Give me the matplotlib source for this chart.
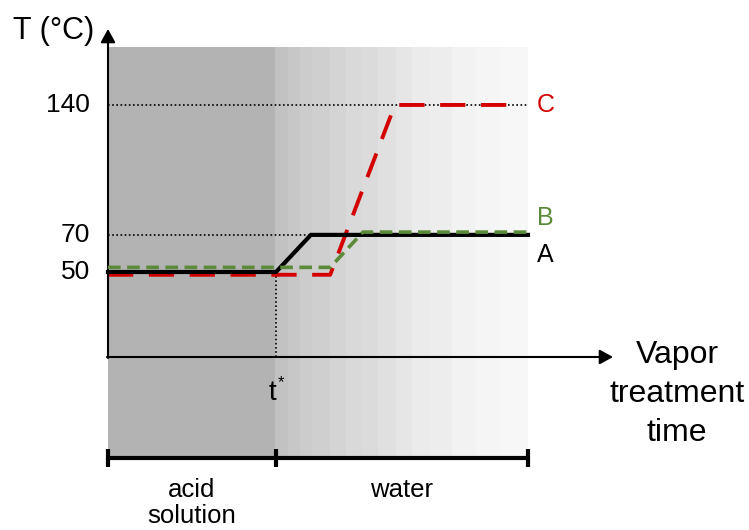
import numpy as np
import matplotlib
matplotlib.use("Agg")
import matplotlib.pyplot as plt
from matplotlib import transforms
from matplotlib.patches import Rectangle

plt.rcParams['font.family'] = ['Liberation Sans', 'DejaVu Sans']

# curves (time in arbitrary units, t* = 4)
t_a = [0, 4, 4.83, 10]
T_a = [50, 50, 70, 70]
t_b = [0, 5.29, 6.07, 10]
T_b = [52.5, 52.5, 71.5, 71.5]
t_c = [0, 5.29, 6.83, 9.7]
T_c = [48.5, 48.5, 140, 140]
t_star = 4
t_end = 10
yticks = [140, 70, 50]
ytick_labels = ['140', '70', '50']

# gray bands of the water part (pixel edges, gray level)
band_edges = [275, 288, 300, 312, 330, 346, 362, 378, 396, 412, 430, 452, 476, 500, 528]
band_gray = [0.76, 0.78, 0.80, 0.81, 0.83, 0.85, 0.86, 0.88, 0.90, 0.92, 0.93, 0.95, 0.96, 0.97]

W, H = 749, 530
fig = plt.figure(figsize=(W / 100, H / 100), dpi=100)
ax = fig.add_axes([0, 0, 1, 1])
# pixel mapping: x = 108 + 42 t ; y = 364.8 - 1.856 T
ax.set_xlim(-108 / 42, (W - 108) / 42)
ax.set_ylim((364.8 - H) / 1.856, 364.8 / 1.856)
ax.axis('off')

px = transforms.Affine2D().scale(1 / W, -1 / H).translate(0, 1) + fig.transFigure
xpx = transforms.blended_transform_factory(ax.transData, px)

# backgrounds
ax.add_patch(Rectangle((108, 47), 167, 411, transform=px, color='#b3b3b3', lw=0, zorder=0))
for i in range(len(band_gray)):
    g = band_gray[i]
    ax.add_patch(Rectangle((band_edges[i], 47), band_edges[i + 1] - band_edges[i], 411,
                           transform=px, color=(g, g, g), lw=0, zorder=0))

# guide lines
ax.plot([0, t_end], [140, 140], color='k', ls=(0, (1, 1.5)), lw=1.2, zorder=1)
ax.plot([0, t_a[2]], [70, 70], color='k', ls=(0, (1, 1.5)), lw=1.2, zorder=1)
ax.plot([t_star, t_star], [50, 4.2], color='k', ls=(0, (1, 1.5)), lw=1.2, zorder=1)

# curves
ax.plot(t_a, T_a, color='black', lw=3, zorder=3, solid_joinstyle='miter')
ax.plot(t_b, T_b, color='#5b8a38', lw=2.6, ls=(0, (3.5, 1.8)), zorder=4)
ax.plot(t_c, T_c, color='#d40000', lw=2.8, ls=(0, (6.5, 4)), zorder=2)

# axes with arrows
arr = dict(arrowstyle='-|>,head_length=0.4,head_width=0.22', color='black', lw=1.5,
           mutation_scale=20, shrinkA=0, shrinkB=0)
ax.annotate('', xy=(108, 29), xytext=(108, 358), xycoords=px, textcoords=px, arrowprops=arr)
ax.annotate('', xy=(613, 357), xytext=(107, 357), xycoords=px, textcoords=px, arrowprops=arr)

# y tick labels
for v, lab in zip(yticks, ytick_labels):
    ax.text(90, 364.8 - 1.856 * v, lab, transform=px, ha='right', va='center', fontsize=19)

ax.text(94, 31, 'T (°C)', transform=px, ha='right', va='center', fontsize=22)
ax.text(677, 394, 'Vapor\ntreatment\ntime', transform=px, ha='center', va='center',
        fontsize=23, linespacing=1.38)
ax.text(272, 393, 't', transform=px, ha='center', va='center', fontsize=20)
ax.text(281, 383, '*', transform=px, ha='center', va='center', fontsize=12)

# curve labels
ax.text(537, 105, 'C', transform=px, ha='left', va='center', fontsize=18, color='#d40000')
ax.text(537, 218, 'B', transform=px, ha='left', va='center', fontsize=18, color='#5b8a38')
ax.text(537, 255, 'A', transform=px, ha='left', va='center', fontsize=18, color='black')

# time bracket
ax.plot([0, t_end], [458, 458], color='black', lw=3, transform=xpx, solid_capstyle='butt')
for tt in [0, t_star, t_end]:
    ax.plot([tt, tt], [449, 467], color='black', lw=3, transform=xpx, solid_capstyle='butt')
ax.text(192, 490, 'acid', transform=px, ha='center', va='center', fontsize=18.5)
ax.text(192, 516, 'solution', transform=px, ha='center', va='center', fontsize=18.5)
ax.text(402, 490, 'water', transform=px, ha='center', va='center', fontsize=18.5)

fig.savefig('out.png', dpi=100)
